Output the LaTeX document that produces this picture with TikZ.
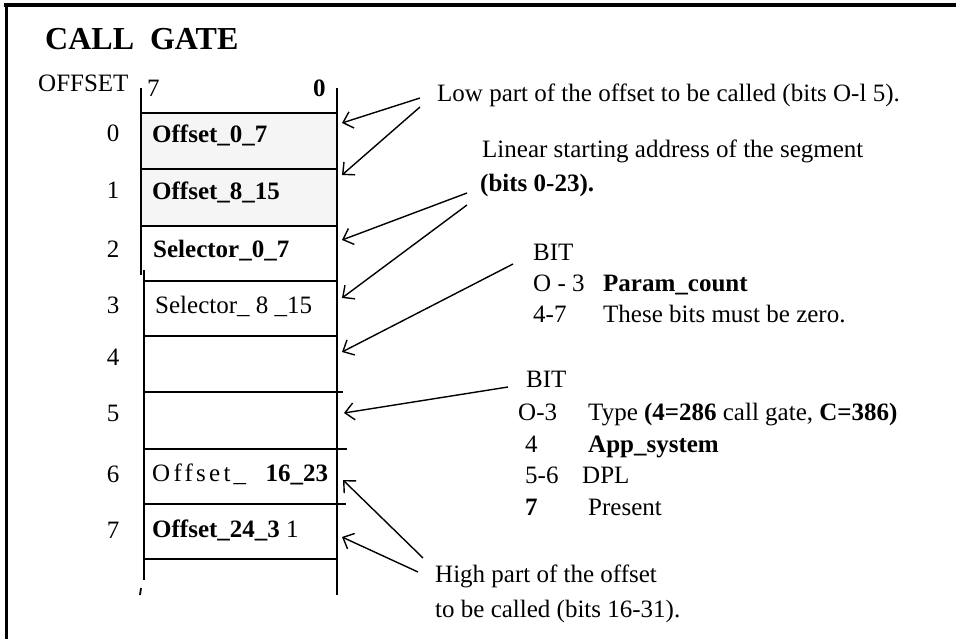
\documentclass[tikz,border=0pt]{standalone}
\usepackage{fontspec}
\setmainfont{Liberation Serif}
\usetikzlibrary{arrows.meta}

\newcommand{\gatesize}{\fontsize{25}{30}\selectfont}

\begin{document}
\begin{tikzpicture}[x=1pt,y=-1pt,
    txt/.style={anchor=base west,inner sep=0pt,font=\gatesize},
    btxt/.style={anchor=base west,inner sep=0pt,font=\gatesize\bfseries},
    num/.style={anchor=base,inner sep=0pt,font=\gatesize},
    ptr/.style={line width=1.4pt,-{Straight Barb[length=9pt,width=17pt,line width=1.4pt]}},
    cell/.style={line width=1.8pt}]
  \useasboundingbox (0,0) rectangle (961,639);
  % frame
  \draw[line width=4pt] (4,5) -- (956,5);
  \draw[line width=3pt] (6,3) -- (6,639);
  \node[anchor=base west,inner sep=0pt,font=\fontsize{32}{36}\selectfont\bfseries] (title) at (45,50) {CALL\ \ GATE};
  % descriptor column
  \fill[gray!8] (141,113) rectangle (337,226);
  \draw[cell] (141,88) -- (141,275);
  \draw[cell] (144,270) -- (144,580);
  \draw[cell] (141,588) -- (140,595);
  \draw[cell] (337,88) -- (337,595);
  \draw[cell] (141,113) -- (337,113);
  \draw[cell] (141,169) -- (337,169);
  \draw[cell] (141,226) -- (337,226);
  \draw[cell] (144,281) -- (337,281);
  \draw[cell] (144,336) -- (337,336);
  \draw[cell] (144,392) -- (343,392);
  \draw[cell] (144,449) -- (347,449);
  \draw[cell] (144,504) -- (346,504);
  \draw[cell] (144,559) -- (337,559);
  \node[txt] (offs) at (38,92) {OFFSET};
  \node[txt] (hi7) at (147,97) {7};
  \node[btxt] (lo0) at (313,97) {0};
  % offsets
  \node[num] (n0) at (113,142) {0};
  \node[num] (n1) at (113,199) {1};
  \node[num] (n2) at (113,257) {2};
  \node[num] (n3) at (113,313) {3};
  \node[num] (n4) at (113,365) {4};
  \node[num] (n5) at (113,421) {5};
  \node[num] (n6) at (113,482) {6};
  \node[num] (n7) at (113,538) {7};
  % fields
  \node[btxt] (c0) at (152,143) {Offset\_0\_7};
  \node[btxt] (c1) at (152,200) {Offset\_8\_15};
  \node[btxt] (c2) at (153,258) {Selector\_0\_7};
  \node[txt] (c3) at (155,313) {Selector\_ 8 \_15};
  \node[txt] (c6) at (152,481) {{\addfontfeature{LetterSpace=13}Offset\_}\hspace{16pt}\textbf{16\_23}};
  \node[txt] (c7) at (152,537) {\textbf{Offset\_24\_3} 1};
  % notes
  \node[txt] (low) at (437,102) {Low part of the offset to be called (bits O-l 5).};
  \node[txt] (lin) at (482,158) {Linear starting address of the segment};
  \node[btxt] (linb) at (480,192) {(bits 0-23).};
  \node[txt] (bita) at (533,260) {BIT};
  \node[txt] (pca) at (533,291) {O - 3};
  \node[btxt] (pcb) at (603,291) {Param\_count};
  \node[txt] (zra) at (533,322) {4-7};
  \node[txt] (zrb) at (603,322) {These bits must be zero.};
  \node[txt] (bitb) at (526,387) {BIT};
  \node[txt] (tya) at (518,420) {O-3};
  \node[txt] (tyb) at (588,420) {Type \textbf{(4=286} call gate, \textbf{C=386)}};
  \node[txt] (apa) at (525,452) {4};
  \node[btxt] (apb) at (588,452) {App\_system};
  \node[txt] (dpa) at (525,483) {5-6};
  \node[txt] (dpb) at (582,483) {DPL};
  \node[btxt] (pra) at (525,515) {7};
  \node[txt] (prb) at (588,515) {Present};
  \node[txt] (high) at (435,582) {High part of the offset};
  \node[txt] (highb) at (435,617) {to be called (bits 16-31).};
  % arrows
  \coordinate (t1) at (420,98);  \coordinate (h1) at (342,123);
  \coordinate (t2) at (420,107); \coordinate (h2) at (342,175);
  \coordinate (t3) at (467,193); \coordinate (h3) at (342,240);
  \coordinate (t4) at (467,205); \coordinate (h4) at (342,298);
  \coordinate (t5) at (513,264); \coordinate (h5) at (342,352);
  \coordinate (t6) at (508,387); \coordinate (h6) at (344,413);
  \coordinate (t7) at (423,558); \coordinate (h7) at (343,480);
  \coordinate (t8) at (418,572); \coordinate (h8) at (342,537);
  \draw[ptr] (t1) -- (h1);
  \draw[ptr] (t2) -- (h2);
  \draw[ptr] (t3) -- (h3);
  \draw[ptr] (t4) -- (h4);
  \draw[ptr] (t5) -- (h5);
  \draw[ptr] (t6) -- (h6);
  \draw[ptr] (t7) -- (h7);
  \draw[ptr] (t8) -- (h8);
\end{tikzpicture}
\end{document}
